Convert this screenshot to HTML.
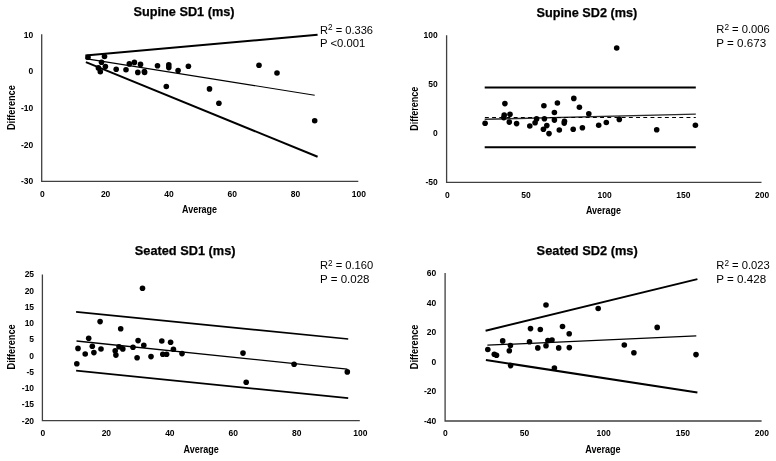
<!DOCTYPE html><html><head><meta charset="utf-8"><style>html,body{margin:0;padding:0;background:#fff;}svg{display:block;will-change:transform;}text{font-family:"Liberation Sans", sans-serif;}</style></head><body>
<svg width="776" height="461" viewBox="0 0 776 461">
<rect width="776" height="461" fill="#fff"/>
<text x="133.5" y="16.3" font-size="13.4" font-weight="bold" text-anchor="start" textLength="101.1" lengthAdjust="spacingAndGlyphs" fill="#000" stroke="#000" stroke-width="0.25">Supine SD1 (ms)</text>
<path d="M41.7 34.3 L41.7 181.3 L358.3 181.3" fill="none" stroke="#404040" stroke-width="1.3"/>
<text x="33.2" y="37.64" font-size="8.5" font-weight="bold" text-anchor="end" fill="#000" >10</text>
<text x="33.2" y="74.34" font-size="8.5" font-weight="bold" text-anchor="end" fill="#000" >0</text>
<text x="33.2" y="111.04" font-size="8.5" font-weight="bold" text-anchor="end" fill="#000" >-10</text>
<text x="33.2" y="147.74" font-size="8.5" font-weight="bold" text-anchor="end" fill="#000" >-20</text>
<text x="33.2" y="184.44" font-size="8.5" font-weight="bold" text-anchor="end" fill="#000" >-30</text>
<text x="42.3" y="196.94" font-size="8.5" font-weight="bold" text-anchor="middle" fill="#000" >0</text>
<text x="105.62" y="196.94" font-size="8.5" font-weight="bold" text-anchor="middle" fill="#000" >20</text>
<text x="168.94" y="196.94" font-size="8.5" font-weight="bold" text-anchor="middle" fill="#000" >40</text>
<text x="232.26" y="196.94" font-size="8.5" font-weight="bold" text-anchor="middle" fill="#000" >60</text>
<text x="295.58" y="196.94" font-size="8.5" font-weight="bold" text-anchor="middle" fill="#000" >80</text>
<text x="358.9" y="196.94" font-size="8.5" font-weight="bold" text-anchor="middle" fill="#000" >100</text>
<text transform="translate(14.9 130) rotate(-90)" x="0" y="0" font-size="10" font-weight="bold" textLength="44.8" lengthAdjust="spacingAndGlyphs">Difference</text>
<text x="182" y="212.9" font-size="10.0" font-weight="bold" text-anchor="start" textLength="35.1" lengthAdjust="spacingAndGlyphs" fill="#000" >Average</text>
<text x="320.0" y="33.5" font-size="11.3" font-weight="normal" text-anchor="start" textLength="53.0" lengthAdjust="spacingAndGlyphs" fill="#000" >R<tspan font-size="8.3" dy="-3.1">2</tspan><tspan dy="3.1"> = 0.336</tspan></text>
<text x="320.0" y="46.9" font-size="11.3" font-weight="normal" text-anchor="start" textLength="45.3" lengthAdjust="spacingAndGlyphs" fill="#000" >P &lt;0.001</text>
<line x1="85.4" y1="55.6" x2="317.6" y2="34.8" stroke="#000" stroke-width="2.0" />
<line x1="85.4" y1="58.6" x2="314.7" y2="95.2" stroke="#000" stroke-width="1.15" />
<line x1="85.9" y1="62.1" x2="317.6" y2="156.7" stroke="#000" stroke-width="2.0" />
<circle cx="88" cy="57.3" r="2.8"/>
<circle cx="104.5" cy="56.5" r="2.8"/>
<circle cx="101.5" cy="62.3" r="2.8"/>
<circle cx="98.4" cy="67.9" r="2.8"/>
<circle cx="100.3" cy="71.7" r="2.8"/>
<circle cx="105.4" cy="66.6" r="2.8"/>
<circle cx="116.2" cy="69.3" r="2.8"/>
<circle cx="126" cy="69.7" r="2.8"/>
<circle cx="129.3" cy="63.9" r="2.8"/>
<circle cx="134.4" cy="62.4" r="2.8"/>
<circle cx="137.8" cy="72.4" r="2.8"/>
<circle cx="140.5" cy="64.4" r="2.8"/>
<circle cx="144.4" cy="71.5" r="2.8"/>
<circle cx="144.6" cy="72.5" r="2.8"/>
<circle cx="157.5" cy="65.8" r="2.8"/>
<circle cx="168.8" cy="64.9" r="2.8"/>
<circle cx="168.8" cy="67.6" r="2.8"/>
<circle cx="178.1" cy="70.6" r="2.8"/>
<circle cx="188.4" cy="66.2" r="2.8"/>
<circle cx="166.3" cy="86.5" r="2.8"/>
<circle cx="209.5" cy="88.9" r="2.8"/>
<circle cx="218.9" cy="103.3" r="2.8"/>
<circle cx="259.0" cy="65.2" r="2.8"/>
<circle cx="277" cy="73" r="2.8"/>
<circle cx="314.7" cy="120.7" r="2.8"/>
<text x="536.6" y="16.9" font-size="13.4" font-weight="bold" text-anchor="start" textLength="100.7" lengthAdjust="spacingAndGlyphs" fill="#000" stroke="#000" stroke-width="0.25">Supine SD2 (ms)</text>
<path d="M446.6 35.3 L446.6 182.4 L761.5 182.4" fill="none" stroke="#404040" stroke-width="1.3"/>
<text x="437.8" y="38.34" font-size="8.5" font-weight="bold" text-anchor="end" fill="#000" >100</text>
<text x="437.8" y="87.24" font-size="8.5" font-weight="bold" text-anchor="end" fill="#000" >50</text>
<text x="437.8" y="136.14" font-size="8.5" font-weight="bold" text-anchor="end" fill="#000" >0</text>
<text x="437.8" y="185.04" font-size="8.5" font-weight="bold" text-anchor="end" fill="#000" >-50</text>
<text x="447.3" y="197.84" font-size="8.5" font-weight="bold" text-anchor="middle" fill="#000" >0</text>
<text x="526.0" y="197.84" font-size="8.5" font-weight="bold" text-anchor="middle" fill="#000" >50</text>
<text x="604.7" y="197.84" font-size="8.5" font-weight="bold" text-anchor="middle" fill="#000" >100</text>
<text x="683.4" y="197.84" font-size="8.5" font-weight="bold" text-anchor="middle" fill="#000" >150</text>
<text x="762.1" y="197.84" font-size="8.5" font-weight="bold" text-anchor="middle" fill="#000" >200</text>
<text transform="translate(417.6 130.8) rotate(-90)" x="0" y="0" font-size="10" font-weight="bold" textLength="44.000000000000014" lengthAdjust="spacingAndGlyphs">Difference</text>
<text x="585.9" y="213.7" font-size="10.0" font-weight="bold" text-anchor="start" textLength="35.1" lengthAdjust="spacingAndGlyphs" fill="#000" >Average</text>
<text x="716.3" y="33.4" font-size="11.3" font-weight="normal" text-anchor="start" textLength="53.5" lengthAdjust="spacingAndGlyphs" fill="#000" >R<tspan font-size="8.3" dy="-3.1">2</tspan><tspan dy="3.1"> = 0.006</tspan></text>
<text x="716.3" y="46.8" font-size="11.3" font-weight="normal" text-anchor="start" textLength="49.8" lengthAdjust="spacingAndGlyphs" fill="#000" >P = 0.673</text>
<line x1="484.7" y1="87.6" x2="695.8" y2="87.6" stroke="#000" stroke-width="2.0" />
<line x1="484.7" y1="147.2" x2="695.8" y2="147.2" stroke="#000" stroke-width="2.0" />
<line x1="484.7" y1="119.3" x2="695.8" y2="114.1" stroke="#2a2a2a" stroke-width="1.4" />
<line x1="484.9" y1="117.5" x2="695.8" y2="117.5" stroke="#000" stroke-width="1.0" stroke-dasharray="3.9 3.3"/>
<circle cx="485.1" cy="123.3" r="2.8"/>
<circle cx="504.9" cy="103.6" r="2.8"/>
<circle cx="504.2" cy="115" r="2.8"/>
<circle cx="503.8" cy="117.6" r="2.8"/>
<circle cx="510" cy="114.3" r="2.8"/>
<circle cx="509.3" cy="122.1" r="2.8"/>
<circle cx="516.6" cy="123.6" r="2.8"/>
<circle cx="529.8" cy="126" r="2.8"/>
<circle cx="535.1" cy="122.8" r="2.8"/>
<circle cx="536.6" cy="118.9" r="2.8"/>
<circle cx="543.9" cy="105.7" r="2.8"/>
<circle cx="544.4" cy="118.8" r="2.8"/>
<circle cx="546.8" cy="125.6" r="2.8"/>
<circle cx="543.4" cy="129.3" r="2.8"/>
<circle cx="549" cy="133.6" r="2.8"/>
<circle cx="557.4" cy="103" r="2.8"/>
<circle cx="554.4" cy="112.5" r="2.8"/>
<circle cx="554.4" cy="120.1" r="2.8"/>
<circle cx="559.3" cy="130" r="2.8"/>
<circle cx="564.5" cy="121.3" r="2.8"/>
<circle cx="564.2" cy="123.1" r="2.8"/>
<circle cx="573.8" cy="98.4" r="2.8"/>
<circle cx="579.4" cy="107.2" r="2.8"/>
<circle cx="573.2" cy="129.3" r="2.8"/>
<circle cx="582.4" cy="127.8" r="2.8"/>
<circle cx="588.8" cy="113.7" r="2.8"/>
<circle cx="598.7" cy="125.2" r="2.8"/>
<circle cx="606.3" cy="122.5" r="2.8"/>
<circle cx="619.3" cy="119.4" r="2.8"/>
<circle cx="616.7" cy="48" r="2.8"/>
<circle cx="656.7" cy="129.8" r="2.8"/>
<circle cx="695.4" cy="125.2" r="2.8"/>
<text x="134.8" y="254.9" font-size="13.4" font-weight="bold" text-anchor="start" textLength="100.7" lengthAdjust="spacingAndGlyphs" fill="#000" stroke="#000" stroke-width="0.25">Seated SD1 (ms)</text>
<path d="M42.4 274.6 L42.4 420.6 L359.8 420.6" fill="none" stroke="#404040" stroke-width="1.3"/>
<text x="34.1" y="277.34" font-size="8.5" font-weight="bold" text-anchor="end" fill="#000" >25</text>
<text x="34.1" y="293.59" font-size="8.5" font-weight="bold" text-anchor="end" fill="#000" >20</text>
<text x="34.1" y="309.83" font-size="8.5" font-weight="bold" text-anchor="end" fill="#000" >15</text>
<text x="34.1" y="326.08" font-size="8.5" font-weight="bold" text-anchor="end" fill="#000" >10</text>
<text x="34.1" y="342.32" font-size="8.5" font-weight="bold" text-anchor="end" fill="#000" >5</text>
<text x="34.1" y="358.57" font-size="8.5" font-weight="bold" text-anchor="end" fill="#000" >0</text>
<text x="34.1" y="374.81" font-size="8.5" font-weight="bold" text-anchor="end" fill="#000" >-5</text>
<text x="34.1" y="391.06" font-size="8.5" font-weight="bold" text-anchor="end" fill="#000" >-10</text>
<text x="34.1" y="407.3" font-size="8.5" font-weight="bold" text-anchor="end" fill="#000" >-15</text>
<text x="34.1" y="423.55" font-size="8.5" font-weight="bold" text-anchor="end" fill="#000" >-20</text>
<text x="42.9" y="436.04" font-size="8.5" font-weight="bold" text-anchor="middle" fill="#000" >0</text>
<text x="106.38" y="436.04" font-size="8.5" font-weight="bold" text-anchor="middle" fill="#000" >20</text>
<text x="169.86" y="436.04" font-size="8.5" font-weight="bold" text-anchor="middle" fill="#000" >40</text>
<text x="233.34" y="436.04" font-size="8.5" font-weight="bold" text-anchor="middle" fill="#000" >60</text>
<text x="296.82" y="436.04" font-size="8.5" font-weight="bold" text-anchor="middle" fill="#000" >80</text>
<text x="360.3" y="436.04" font-size="8.5" font-weight="bold" text-anchor="middle" fill="#000" >100</text>
<text transform="translate(14.8 369.4) rotate(-90)" x="0" y="0" font-size="10" font-weight="bold" textLength="45.099999999999966" lengthAdjust="spacingAndGlyphs">Difference</text>
<text x="183.5" y="452.5" font-size="10.0" font-weight="bold" text-anchor="start" textLength="35.4" lengthAdjust="spacingAndGlyphs" fill="#000" >Average</text>
<text x="320.0" y="268.9" font-size="11.3" font-weight="normal" text-anchor="start" textLength="53.2" lengthAdjust="spacingAndGlyphs" fill="#000" >R<tspan font-size="8.3" dy="-3.1">2</tspan><tspan dy="3.1"> = 0.160</tspan></text>
<text x="320.0" y="282.5" font-size="11.3" font-weight="normal" text-anchor="start" textLength="49.5" lengthAdjust="spacingAndGlyphs" fill="#000" >P = 0.028</text>
<line x1="76.1" y1="311.8" x2="348.2" y2="339" stroke="#000" stroke-width="1.75" />
<line x1="76.5" y1="341.0" x2="347.3" y2="369.1" stroke="#000" stroke-width="1.3" />
<line x1="76.1" y1="370.7" x2="348.2" y2="398.2" stroke="#000" stroke-width="1.75" />
<circle cx="76.8" cy="363.7" r="2.8"/>
<circle cx="78" cy="348.4" r="2.8"/>
<circle cx="85.2" cy="354" r="2.8"/>
<circle cx="88.7" cy="338.3" r="2.8"/>
<circle cx="92.3" cy="346.3" r="2.8"/>
<circle cx="93.9" cy="352.6" r="2.8"/>
<circle cx="100.1" cy="321.6" r="2.8"/>
<circle cx="101" cy="349" r="2.8"/>
<circle cx="115.2" cy="350.7" r="2.8"/>
<circle cx="115.9" cy="355.1" r="2.8"/>
<circle cx="119" cy="346.7" r="2.8"/>
<circle cx="122.8" cy="348.9" r="2.8"/>
<circle cx="120.7" cy="328.7" r="2.8"/>
<circle cx="133" cy="347.3" r="2.8"/>
<circle cx="138.1" cy="340.6" r="2.8"/>
<circle cx="143.8" cy="345.3" r="2.8"/>
<circle cx="137.1" cy="357.8" r="2.8"/>
<circle cx="142.5" cy="288.3" r="2.8"/>
<circle cx="151" cy="356.6" r="2.8"/>
<circle cx="161.8" cy="341" r="2.8"/>
<circle cx="170.6" cy="342.2" r="2.8"/>
<circle cx="173.4" cy="349.2" r="2.8"/>
<circle cx="162.8" cy="354.2" r="2.8"/>
<circle cx="166.6" cy="354.2" r="2.8"/>
<circle cx="182" cy="353.6" r="2.8"/>
<circle cx="243" cy="353.1" r="2.8"/>
<circle cx="246.2" cy="382.3" r="2.8"/>
<circle cx="294.1" cy="364.3" r="2.8"/>
<circle cx="347.3" cy="371.9" r="2.8"/>
<text x="536.6" y="254.9" font-size="13.4" font-weight="bold" text-anchor="start" textLength="101.1" lengthAdjust="spacingAndGlyphs" fill="#000" stroke="#000" stroke-width="0.25">Seated SD2 (ms)</text>
<path d="M445.1 273 L445.1 421.0 L761.6 421.0" fill="none" stroke="#404040" stroke-width="1.3"/>
<text x="436.2" y="276.04" font-size="8.5" font-weight="bold" text-anchor="end" fill="#000" >60</text>
<text x="436.2" y="305.6" font-size="8.5" font-weight="bold" text-anchor="end" fill="#000" >40</text>
<text x="436.2" y="335.16" font-size="8.5" font-weight="bold" text-anchor="end" fill="#000" >20</text>
<text x="436.2" y="364.72" font-size="8.5" font-weight="bold" text-anchor="end" fill="#000" >0</text>
<text x="436.2" y="394.28" font-size="8.5" font-weight="bold" text-anchor="end" fill="#000" >-20</text>
<text x="436.2" y="423.84" font-size="8.5" font-weight="bold" text-anchor="end" fill="#000" >-40</text>
<text x="445.4" y="435.84" font-size="8.5" font-weight="bold" text-anchor="middle" fill="#000" >0</text>
<text x="524.52" y="435.84" font-size="8.5" font-weight="bold" text-anchor="middle" fill="#000" >50</text>
<text x="603.65" y="435.84" font-size="8.5" font-weight="bold" text-anchor="middle" fill="#000" >100</text>
<text x="682.77" y="435.84" font-size="8.5" font-weight="bold" text-anchor="middle" fill="#000" >150</text>
<text x="761.9" y="435.84" font-size="8.5" font-weight="bold" text-anchor="middle" fill="#000" >200</text>
<text transform="translate(417.6 369.2) rotate(-90)" x="0" y="0" font-size="10" font-weight="bold" textLength="44.599999999999966" lengthAdjust="spacingAndGlyphs">Difference</text>
<text x="585.2" y="452.5" font-size="10.0" font-weight="bold" text-anchor="start" textLength="35.4" lengthAdjust="spacingAndGlyphs" fill="#000" >Average</text>
<text x="716.3" y="268.8" font-size="11.3" font-weight="normal" text-anchor="start" textLength="53.5" lengthAdjust="spacingAndGlyphs" fill="#000" >R<tspan font-size="8.3" dy="-3.1">2</tspan><tspan dy="3.1"> = 0.023</tspan></text>
<text x="716.3" y="282.5" font-size="11.3" font-weight="normal" text-anchor="start" textLength="49.8" lengthAdjust="spacingAndGlyphs" fill="#000" >P = 0.428</text>
<line x1="485.6" y1="330.8" x2="697.4" y2="279.1" stroke="#000" stroke-width="2.0" />
<line x1="487.4" y1="345.2" x2="696.3" y2="335.9" stroke="#000" stroke-width="1.3" />
<line x1="485.9" y1="360" x2="697.4" y2="392.4" stroke="#000" stroke-width="2.0" />
<circle cx="487.8" cy="349.5" r="2.8"/>
<circle cx="494.3" cy="354.3" r="2.8"/>
<circle cx="496.5" cy="355.3" r="2.8"/>
<circle cx="502.7" cy="340.9" r="2.8"/>
<circle cx="510.4" cy="345.5" r="2.8"/>
<circle cx="509.3" cy="350.8" r="2.8"/>
<circle cx="510.6" cy="365.6" r="2.8"/>
<circle cx="529.5" cy="341.7" r="2.8"/>
<circle cx="530.5" cy="328.6" r="2.8"/>
<circle cx="540.3" cy="329.5" r="2.8"/>
<circle cx="537.8" cy="347.9" r="2.8"/>
<circle cx="546" cy="305" r="2.8"/>
<circle cx="546" cy="345.7" r="2.8"/>
<circle cx="547.9" cy="340.6" r="2.8"/>
<circle cx="552" cy="340.1" r="2.8"/>
<circle cx="554.4" cy="368" r="2.8"/>
<circle cx="558.7" cy="347.9" r="2.8"/>
<circle cx="562.5" cy="326.5" r="2.8"/>
<circle cx="569.2" cy="333.7" r="2.8"/>
<circle cx="569.3" cy="347.6" r="2.8"/>
<circle cx="598.2" cy="308.5" r="2.8"/>
<circle cx="624.3" cy="345" r="2.8"/>
<circle cx="633.9" cy="352.8" r="2.8"/>
<circle cx="657.2" cy="327.4" r="2.8"/>
<circle cx="696" cy="354.6" r="2.8"/>
</svg></body></html>
